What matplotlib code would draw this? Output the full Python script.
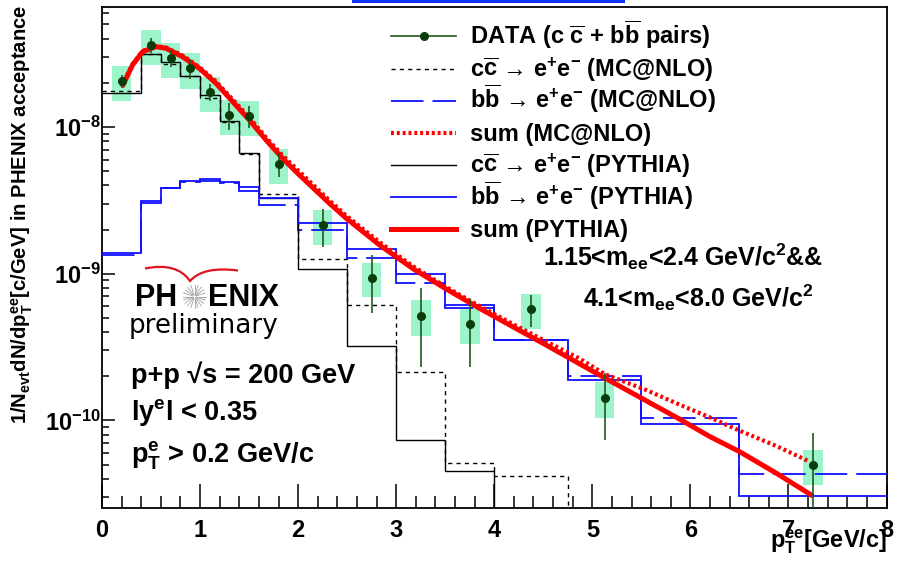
import numpy as np
import matplotlib.pyplot as plt
from matplotlib.lines import Line2D
from matplotlib.patches import Rectangle, PathPatch
from matplotlib.path import Path
from matplotlib.ticker import MultipleLocator, LogLocator, NullFormatter, FixedLocator

plt.rcParams['font.family'] = ['Liberation Sans', 'DejaVu Sans']
plt.rcParams['font.weight'] = 'bold'
plt.rcParams['mathtext.fontset'] = 'custom'
plt.rcParams['mathtext.rm'] = 'Liberation Sans:bold'
plt.rcParams['mathtext.it'] = 'Liberation Sans:bold'
plt.rcParams['mathtext.bf'] = 'Liberation Sans:bold'
plt.rcParams['mathtext.sf'] = 'Liberation Sans:bold'

# ---- data ----
data_pt = [0.2, 0.5, 0.7, 0.9, 1.1, 1.3, 1.5, 1.8, 2.25, 2.75, 3.25, 3.75, 4.375, 5.125, 7.25]
data_y = [2.06e-8, 3.62e-8, 2.96e-8, 2.51e-8, 1.74e-8, 1.21e-8, 1.19e-8, 5.62e-9,
          2.15e-9, 9.4e-10, 5.18e-10, 4.52e-10, 5.71e-10, 1.43e-10, 4.97e-11]
data_stat = [2.1e-9, 4.0e-9, 3.8e-9, 3.8e-9, 2.4e-9, 2.5e-9, 2.0e-9, 1.05e-9,
             6.2e-10, 4.0e-10, 2.85e-10, 2.2e-10, 1.4e-10, 6.9e-11, 3.2e-11]
data_sys = [5.6e-9, 9.8e-9, 8.0e-9, 6.8e-9, 4.7e-9, 3.3e-9, 3.2e-9, 1.5e-9,
            5.8e-10, 2.5e-10, 1.4e-10, 1.22e-10, 1.54e-10, 3.9e-11, 1.34e-11]

bin_edges = [0.0, 0.4, 0.6, 0.8, 1.0, 1.2, 1.4, 1.6, 2.0, 2.5, 3.0, 3.5, 4.0, 4.75, 5.5, 6.5, 8.0]
cc_mcnlo = [1.76e-8, 3.15e-8, 2.71e-8, 2.22e-8, 1.58e-8, 1.08e-8, 6.5e-9, 3.51e-9,
            1.27e-9, 6.12e-10, 2.15e-10, 5.15e-11, 4.15e-11, 0, 0, 0]
bb_mcnlo = [1.34e-9, 3.03e-9, 3.84e-9, 4.20e-9, 4.32e-9, 4.15e-9, 3.68e-9, 2.93e-9,
            1.99e-9, 1.29e-9, 8.60e-10, 5.81e-10, 3.56e-10, 2.01e-10, 1.04e-10, 4.31e-11]
cc_pythia = [1.70e-8, 3.13e-8, 2.79e-8, 2.24e-8, 1.65e-8, 1.10e-8, 6.62e-9, 3.30e-9,
             1.07e-9, 3.21e-10, 7.41e-11, 4.55e-11, 0, 0, 0, 0]
bb_pythia = [1.38e-9, 3.15e-9, 3.87e-9, 4.28e-9, 4.39e-9, 4.22e-9, 3.92e-9, 3.28e-9,
             2.23e-9, 1.48e-9, 1.00e-9, 6.09e-10, 3.53e-10, 1.88e-10, 9.45e-11, 3.05e-11]

sum_pythia_pt = [0.204, 0.312, 0.414, 0.551, 0.653, 0.822, 0.993, 1.163, 1.333, 1.503,
                 1.673, 1.843, 2.013, 2.319, 2.490, 2.830, 3.169, 3.510, 3.850, 4.190,
                 4.531, 4.870, 5.126, 5.551, 5.891, 6.197, 6.503, 6.878, 7.251]
sum_pythia = [1.88e-8, 2.65e-8, 3.26e-8, 3.53e-8, 3.44e-8, 3.01e-8, 2.51e-8, 1.986e-8, 1.488e-8, 1.116e-8,
              8.15e-9, 6.10e-9, 4.71e-9, 3.02e-9, 2.39e-9, 1.57e-9, 1.085e-9, 7.87e-10, 5.81e-10, 4.35e-10,
              3.26e-10, 2.43e-10, 1.95e-10, 1.36e-10, 1.02e-10, 7.77e-11, 6.12e-11, 4.36e-11, 3.05e-11]

sum_mcnlo_pt = [0.204, 0.312, 0.414, 0.551, 0.653, 0.822, 0.993, 1.163, 1.333, 1.503,
                1.673, 1.843, 2.013, 2.319, 2.490, 2.830, 3.169, 3.510, 3.850, 4.190,
                4.531, 4.870, 5.126, 5.551, 5.891, 6.197, 6.503, 6.878, 7.217]
sum_mcnlo = [1.91e-8, 2.69e-8, 3.30e-8, 3.56e-8, 3.48e-8, 3.07e-8, 2.56e-8, 2.04e-8, 1.54e-8, 1.161e-8,
             8.48e-9, 6.39e-9, 4.97e-9, 3.16e-9, 2.49e-9, 1.645e-9, 1.128e-9, 8.11e-10, 6.02e-10, 4.54e-10,
             3.45e-10, 2.64e-10, 2.07e-10, 1.61e-10, 1.28e-10, 1.05e-10, 8.51e-11, 6.69e-11, 5.23e-11]

y_major_ticks = [1e-10, 1e-9, 1e-8]

legend_labels = [
    r'DATA (c $\overline{\mathrm{c}}$ + b$\overline{\mathrm{b}}$ pairs)',
    r'c$\overline{\mathrm{c}}$ → e$^{+}$e$^{-}$ (MC@NLO)',
    r'b$\overline{\mathrm{b}}$ → e$^{+}$e$^{-}$ (MC@NLO)',
    'sum (MC@NLO)',
    r'c$\overline{\mathrm{c}}$ → e$^{+}$e$^{-}$ (PYTHIA)',
    r'b$\overline{\mathrm{b}}$ → e$^{+}$e$^{-}$ (PYTHIA)',
    'sum (PYTHIA)',
]

# line styles shared by plot and legend
GREEN_DOT = '#0b3d0b'
GREEN_BAR = '#1f5a1f'
BLUE = '#1010ff'
RED = '#ff0000'
styles = [
    dict(color=GREEN_BAR, lw=1.2),
    dict(color='black', lw=1.0, linestyle=(0, (3, 3))),
    dict(color=BLUE, lw=1.3, linestyle=(0, (18, 5))),
    dict(color=RED, lw=3.0, linestyle=(0, (0.7, 0.7))),
    dict(color='black', lw=1.0),
    dict(color=BLUE, lw=1.3),
    dict(color=RED, lw=3.6),
]

W, H = 905, 561
fig = plt.figure(figsize=(W / 100, H / 100), dpi=100)
ax = fig.add_axes([102 / W, 1 - 508 / H, 784.5 / W, 501 / H])


def fx(px):
    return px / W


def fy(py):
    return 1 - py / H


def nz(v):
    # empty bins drop below the frame like the ROOT histogram does
    v = np.asarray(v, dtype=float)
    return np.where(v > 0, v, 1e-14)


# systematic boxes
ax.bar(data_pt, 2 * np.array(data_sys), width=0.2,
       bottom=np.array(data_y) - np.array(data_sys),
       color='#9cf5ca', edgecolor='none', zorder=1)

# MC histograms
ax.stairs(nz(cc_mcnlo), bin_edges, baseline=None, zorder=3, **styles[1])
ax.stairs(nz(bb_mcnlo), bin_edges, baseline=None, zorder=3, **styles[2])
ax.stairs(nz(cc_pythia), bin_edges, baseline=None, zorder=3, **styles[4])
ax.stairs(nz(bb_pythia), bin_edges, baseline=None, zorder=3, **styles[5])

# sums
ax.plot(sum_pythia_pt, sum_pythia, zorder=4, solid_capstyle='butt', **styles[6])
ax.plot(sum_mcnlo_pt, sum_mcnlo, zorder=4, **styles[3])

# data
ax.errorbar(data_pt, data_y, yerr=data_stat, fmt='o', ms=5.5, color=GREEN_DOT,
            ecolor=GREEN_BAR, elinewidth=1.2, capsize=0, zorder=6)

ax.set_yscale('log')
ax.set_xlim(0, 8)
ax.set_ylim(2.53e-11, 6.58e-8)

ax.xaxis.set_major_locator(MultipleLocator(1))
ax.xaxis.set_minor_locator(MultipleLocator(0.2))
ax.yaxis.set_major_locator(FixedLocator(y_major_ticks))
ax.yaxis.set_minor_locator(LogLocator(base=10, subs=np.arange(2, 10), numticks=20))
ax.yaxis.set_minor_formatter(NullFormatter())
ax.tick_params(axis='x', which='major', direction='in', length=17, width=1.1,
               labelsize=17, pad=8, top=False)
ax.tick_params(axis='x', which='minor', direction='in', length=8.5, width=1.1, top=False)
ax.tick_params(axis='y', which='major', direction='in', length=9.5, width=1.1,
               labelsize=17, pad=1, right=False)
ax.tick_params(axis='y', which='minor', direction='in', length=4.8, width=1.1, right=False)
for sp in ax.spines.values():
    sp.set_linewidth(1.3)

# axis titles
fig.text(fx(22), fy(5), r'1/N$_{\mathrm{evt}}$dN/dp$_{\mathrm{T}}^{\mathrm{ee}}$[c/GeV] in PHENIX acceptance',
         rotation=90, ha='center', va='top', fontsize=14.6)
fig.text(fx(887), fy(548), r'p$_{\mathrm{T}}^{\mathrm{ee}}$[GeV/c]', ha='right', va='baseline', fontsize=17)

# legend (ROOT TLegend layout, fixed rows)
row_y = [36, 68.5, 100.5, 132.7, 164.7, 196.7, 229]
for st, lab, yc in zip(styles, legend_labels, row_y):
    fig.add_artist(Line2D([fx(391), fx(456)], [fy(yc), fy(yc)], transform=fig.transFigure, **st))
    fig.text(fx(470), fy(yc + 7.8), lab, fontsize=17, va='baseline')
fig.add_artist(Line2D([fx(423.5)], [fy(row_y[0])], transform=fig.transFigure, marker='o',
                      ms=5.5, color=GREEN_DOT, lw=0))

# annotations
fig.text(fx(543), fy(266), r'1.15<m$_{\mathrm{ee}}$<2.4 GeV/c$^{2}$&&', fontsize=18, va='baseline')
fig.text(fx(583), fy(307), r'4.1<m$_{\mathrm{ee}}$<8.0 GeV/c$^{2}$', fontsize=18, va='baseline')
fig.text(fx(131), fy(383), 'p+p \u221as = 200 GeV', fontsize=19.5, va='baseline')
fig.text(fx(131), fy(420), r'ly$^{\mathrm{e}}$l < 0.35', fontsize=19.5, va='baseline')
fig.text(fx(131), fy(463), r'p$_{\mathrm{T}}^{\mathrm{e}}$ > 0.2 GeV/c', fontsize=19.5, va='baseline')

# PHENIX logo
fig.text(fx(177), fy(306.5), 'PH', fontsize=22, ha='right', va='baseline')
fig.text(fx(208), fy(306.5), 'ENIX', fontsize=22, ha='left', va='baseline')
fig.text(fx(129), fy(333), 'preliminary', fontsize=18.8, fontweight='normal',
         family='DejaVu Sans', va='baseline')
cx, cy = 194.5, 296.5
for a in np.linspace(0, 2 * np.pi, 20, endpoint=False):
    fig.add_artist(Line2D([fx(cx + 2.0 * np.cos(a)), fx(cx + 11.5 * np.cos(a))],
                          [fy(cy + 2.0 * np.sin(a)), fy(cy + 11.5 * np.sin(a))],
                          transform=fig.transFigure, color='#a0a0a0', lw=0.6))
swoosh = Path([(fx(145), fy(268.5)), (fx(177), fy(262)), (fx(190), fy(281)),
               (fx(203), fy(266)), (fx(238), fy(270.5))],
              [Path.MOVETO, Path.CURVE3, Path.CURVE3, Path.CURVE3, Path.CURVE3])
fig.add_artist(PathPatch(swoosh, transform=fig.transFigure, fill=False,
                         edgecolor='#e0141e', lw=1.6))

# blue strip at the very top of the image
fig.add_artist(Rectangle((fx(352), fy(2.5)), fx(273), 2.5 / H, transform=fig.transFigure,
                         color='#1030ff', lw=0))

fig.savefig('out.png', dpi=100)
